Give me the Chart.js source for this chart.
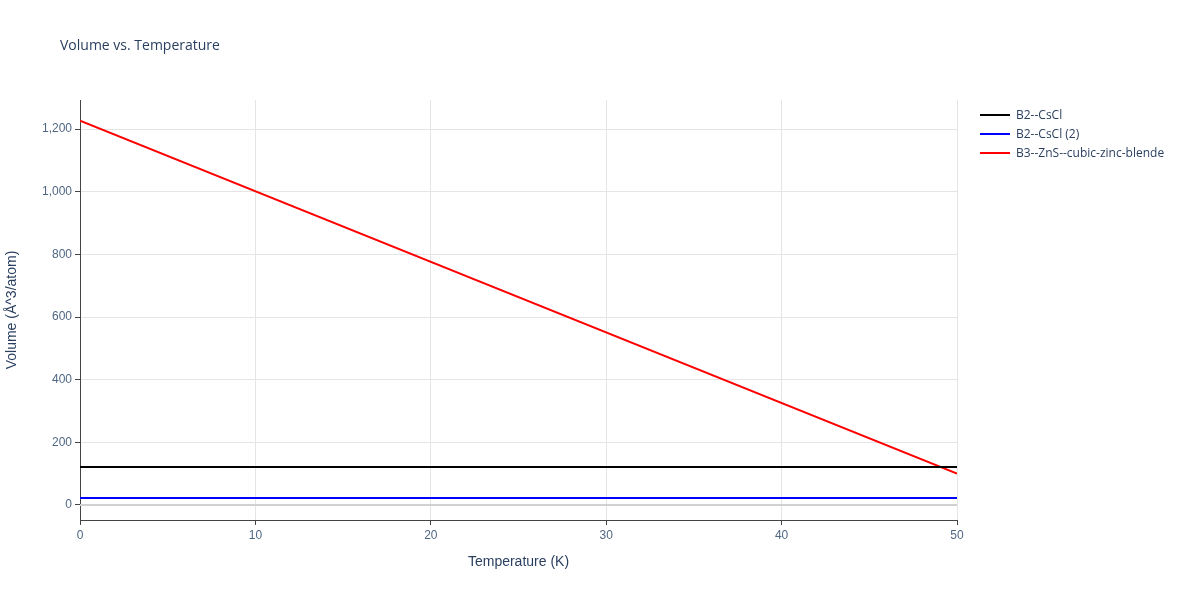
<!DOCTYPE html>
<html><head><meta charset="utf-8">
<script src="https://cdn.jsdelivr.net/npm/chart.js"></script>
<style>
body{margin:0;background:#fff;font-family:"Open Sans",sans-serif;}
#wrap{position:relative;width:1200px;height:600px;}
#title{position:absolute;left:60px;top:35px;font-size:14px;color:#2a3f5f;}
#legend{position:absolute;left:980px;top:105px;font-size:12px;color:#2a3f5f;}
.li{display:flex;align-items:center;height:19px;}
.sw{width:30px;height:2px;margin-right:6px;}
</style></head><body>
<div id="wrap"><canvas id="c" width="1200" height="600"></canvas>
<div id="title">Volume vs. Temperature</div>
<div id="legend"></div></div>
<script>
const temperatures=[0,50];
const seriesNames=["B2--CsCl","B2--CsCl (2)","B3--ZnS--cubic-zinc-blende"];
const b2CsCl=[121,121];
const b2CsCl2=[22,22];
const b3ZnS=[1227,100];
const colors=["#000000","#0000ff","#ff0000"];
const allSeries=[b2CsCl,b2CsCl2,b3ZnS];
const lg=document.getElementById('legend');
seriesNames.forEach((n,i)=>{lg.innerHTML+=`<div class="li"><div class="sw" style="background:${colors[i]}"></div>${n}</div>`;});
const zeroLine={id:'z',beforeDatasetsDraw(ch){const y=ch.scales.y.getPixelForValue(0),a=ch.chartArea,c=ch.ctx;c.save();c.strokeStyle='#d0d0d0';c.lineWidth=2;c.beginPath();c.moveTo(a.left,y);c.lineTo(a.right,y);c.stroke();c.restore();}};
new Chart(document.getElementById('c'),{type:'line',
data:{datasets:allSeries.map((d,i)=>({label:seriesNames[i],data:temperatures.map((t,j)=>({x:t,y:d[j]})),borderColor:colors[i],borderWidth:2,pointRadius:0,tension:0}))},
options:{responsive:false,animation:false,
layout:{padding:{top:100,right:243,left:0,bottom:25}},
plugins:{legend:{display:false},tooltip:{enabled:false}},
scales:{
x:{type:'linear',min:0,max:50,ticks:{stepSize:10,color:'#506784',font:{size:12}},grid:{color:'#e5e5e5',tickLength:5,tickColor:'#444'},border:{color:'#444'},
title:{display:true,text:'Temperature (K)',color:'#2a3f5f',font:{size:14},padding:{top:10}},afterFit(s){s.height=55;}},
y:{min:-48,max:1293,ticks:{color:'#506784',font:{size:12}},afterBuildTicks(s){s.ticks=[0,200,400,600,800,1000,1200].map(v=>({value:v}));},grid:{color:'#e5e5e5',tickLength:5,tickColor:'#444'},border:{color:'#444'},
title:{display:true,text:'Volume (Å^3/atom)',color:'#2a3f5f',font:{size:14}},afterFit(s){s.width=80;}}}},
plugins:[zeroLine]});
</script></body></html>
